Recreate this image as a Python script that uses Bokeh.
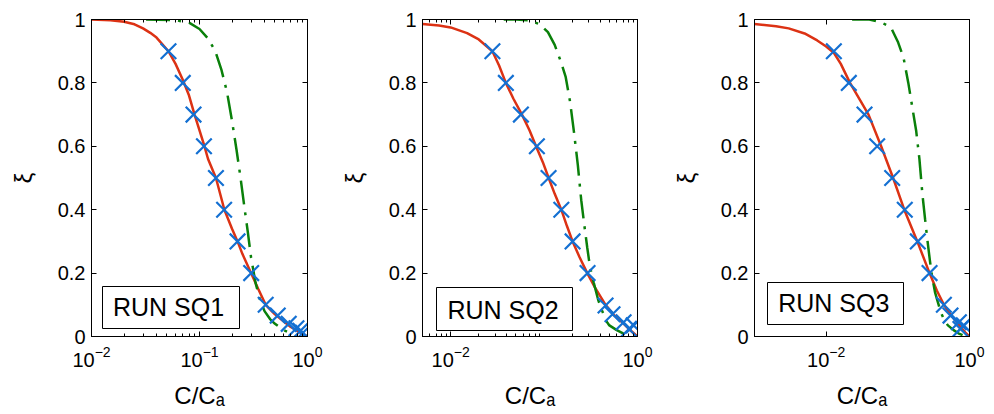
import math
from bokeh.plotting import figure
from bokeh.layouts import row
from bokeh.models import FixedTicker, LogAxis, LinearAxis, LogTickFormatter, Label
from bokeh.embed import file_html
from bokeh.resources import INLINE

# ---------------- data ----------------
# Panel 1 (RUN SQ1)
p1_red_x = [0.01, 0.015, 0.02, 0.025, 0.03, 0.035, 0.04, 0.0516, 0.06, 0.07, 0.08, 0.09, 0.1, 0.11, 0.12, 0.142,
            0.17, 0.2, 0.225, 0.25, 0.3, 0.35, 0.41, 0.5, 0.6, 0.7, 0.8, 0.9, 1.0]
p1_red_y = [1.0, 0.998, 0.993, 0.985, 0.972, 0.958, 0.943, 0.9, 0.86, 0.81, 0.76, 0.70, 0.65, 0.605, 0.56, 0.5,
            0.40, 0.34, 0.30, 0.26, 0.20, 0.15, 0.10, 0.07, 0.048, 0.03, 0.018, 0.008, 0.0]
p1_grn_x = [0.032, 0.06, 0.08, 0.1, 0.12, 0.14, 0.16, 0.18, 0.2, 0.22, 0.24, 0.26, 0.28, 0.30, 0.33, 0.36,
            0.4, 0.45, 0.5, 0.6, 0.7, 0.75]
p1_grn_y = [1.0, 0.998, 0.99, 0.97, 0.94, 0.90, 0.84, 0.77, 0.68, 0.59, 0.50, 0.41, 0.33, 0.25, 0.17, 0.12,
            0.08, 0.055, 0.04, 0.02, 0.01, 0.005]
p1_mk_x = [0.0516, 0.070, 0.088, 0.110, 0.142, 0.169, 0.225, 0.301, 0.41, 0.53, 0.67, 0.79, 0.86, 0.91]
p1_mk_y = [0.9, 0.8, 0.7, 0.6, 0.5, 0.4, 0.3, 0.2, 0.1, 0.066, 0.04, 0.026, 0.018, 0.012]

# Panel 2 (RUN SQ2)
p2_red_x = [0.005, 0.0075, 0.01, 0.015, 0.02, 0.028, 0.033, 0.039, 0.047, 0.058, 0.07, 0.082, 0.097, 0.112,
            0.13, 0.153, 0.175, 0.202, 0.24, 0.29, 0.35, 0.455, 0.55, 0.7, 0.85, 1.0]
p2_red_y = [0.986, 0.981, 0.975, 0.957, 0.937, 0.90, 0.855, 0.80, 0.75, 0.70, 0.65, 0.60, 0.55, 0.50,
            0.45, 0.40, 0.35, 0.30, 0.25, 0.20, 0.155, 0.10, 0.07, 0.042, 0.018, 0.0]
p2_grn_x = [0.037, 0.05, 0.07, 0.09, 0.11, 0.13, 0.15, 0.17, 0.19, 0.21, 0.23, 0.25, 0.27, 0.29, 0.31, 0.34,
            0.38, 0.42, 0.46, 0.5, 0.6, 0.7, 0.78]
p2_grn_y = [1.0, 1.0, 0.997, 0.985, 0.96, 0.92, 0.87, 0.82, 0.74, 0.64, 0.54, 0.43, 0.35, 0.28, 0.22, 0.17,
            0.115, 0.08, 0.05, 0.035, 0.02, 0.01, 0.004]
p2_mk_x = [0.028, 0.039, 0.0565, 0.0838, 0.1117, 0.153, 0.202, 0.292, 0.455, 0.54, 0.71, 0.81, 0.91]
p2_mk_y = [0.9, 0.8, 0.7, 0.6, 0.5, 0.4, 0.3, 0.2, 0.098, 0.07, 0.045, 0.024, 0.035]

# Panel 3 (RUN SQ3)
p3_red_x = [0.001, 0.002, 0.003, 0.005, 0.0075, 0.01, 0.0128, 0.016, 0.0215, 0.03, 0.039, 0.0585, 0.086,
            0.123, 0.187, 0.277, 0.35, 0.44, 0.54, 0.64, 0.75, 0.87, 1.0]
p3_red_y = [0.986, 0.979, 0.972, 0.956, 0.934, 0.915, 0.895, 0.86, 0.80, 0.744, 0.70, 0.60, 0.50,
            0.40, 0.30, 0.20, 0.145, 0.10, 0.07, 0.05, 0.03, 0.013, 0.0]
p3_grn_x = [0.023, 0.04, 0.06, 0.08, 0.1, 0.12, 0.14, 0.16, 0.18, 0.2, 0.22, 0.24, 0.26, 0.28, 0.3, 0.33,
            0.36, 0.4, 0.45, 0.5, 0.6, 0.7, 0.8]
p3_grn_y = [1.0, 1.0, 0.99, 0.975, 0.93, 0.88, 0.80, 0.72, 0.65, 0.56, 0.45, 0.37, 0.30, 0.24, 0.19, 0.14,
            0.11, 0.075, 0.05, 0.035, 0.02, 0.01, 0.004]
p3_mk_x = [0.0128, 0.0207, 0.0343, 0.0515, 0.0834, 0.125, 0.190, 0.277, 0.439, 0.543, 0.71, 0.748, 0.832]
p3_mk_y = [0.9, 0.8, 0.7, 0.6, 0.5, 0.4, 0.3, 0.2, 0.1, 0.066, 0.045, 0.024, 0.035]

run_names = ["RUN SQ1", "RUN SQ2", "RUN SQ3"]
y_ticks = [0, 0.2, 0.4, 0.6, 0.8, 1]
y_tick_labels = ["0", "0.2", "0.4", "0.6", "0.8", "1"]
x_label = "C/C\u2090"
y_label = "ξ"

# ---------------- style ----------------
FONT = "Liberation Sans"
RED = "#dc3214"
GREEN = "#0a800a"
BLUE = "#1470d2"


def minor_decades(lo_exp, hi_exp):
    out = []
    for e in range(lo_exp, hi_exp):
        for m in range(2, 10):
            out.append(m * 10.0 ** e)
    return out


def make_panel(xr, major, minor, rx, ry, gx, gy, mx, my, name, width, right_border,
               box_px, text_px):
    W = width - 91 - right_border
    H = 317
    lo, hi = math.log10(xr[0]), math.log10(xr[1])

    def fx(off):
        return 10 ** (lo + off / W * (hi - lo))

    def fy(py_from_top):
        return (H - py_from_top) / H

    p = figure(width=width, height=414, x_axis_type="log", x_range=xr, y_range=(0, 1),
               output_backend="svg", toolbar_location=None,
               min_border_left=91, min_border_right=right_border, min_border_top=19,
               min_border_bottom=78)
    p.grid.visible = False
    p.outline_line_color = "black"
    p.background_fill_color = "white"
    p.border_fill_color = "white"

    top_ax = LogAxis()
    right_ax = LinearAxis()
    p.add_layout(top_ax, "above")
    p.add_layout(right_ax, "right")

    xt = FixedTicker(ticks=major, minor_ticks=minor)
    yt = FixedTicker(ticks=y_ticks, minor_ticks=[])
    for ax in p.xaxis:
        ax.ticker = xt
        ax.formatter = LogTickFormatter()
    for ax in p.yaxis:
        ax.ticker = yt
        ax.major_label_overrides = {t: s for t, s in zip(y_ticks, y_tick_labels)}
    for ax in p.xaxis + p.yaxis:
        ax.axis_line_color = "black"
        ax.major_tick_line_color = "black"
        ax.minor_tick_line_color = "black"
        ax.major_tick_in = 5
        ax.major_tick_out = 0
        ax.minor_tick_in = 3
        ax.minor_tick_out = 0
        ax.major_label_text_font = FONT
        ax.major_label_text_font_size = "20px"
        ax.major_label_text_color = "black"
        ax.major_label_standoff = 6
    for ax in (top_ax, right_ax):
        ax.major_label_text_font_size = "1px"
        ax.major_label_text_alpha = 0
        ax.major_label_standoff = 0

    bottom = p.below[0]
    bottom.major_label_standoff = 9
    bottom.axis_label = x_label
    bottom.axis_label_text_font = FONT
    bottom.axis_label_text_font_size = "24px"
    bottom.axis_label_text_font_style = "normal"
    bottom.axis_label_text_color = "black"
    bottom.axis_label_standoff = 12

    left = p.left[0]
    left.axis_label = y_label
    left.axis_label_text_font = FONT
    left.axis_label_text_font_size = "24px"
    left.axis_label_text_font_style = "normal"
    left.axis_label_text_color = "black"
    left.axis_label_standoff = 18

    p.line(rx, ry, line_color=RED, line_width=2.5)
    p.line(gx, gy, line_color=GREEN, line_width=2.5, line_dash="24 8 3 8")
    p.scatter(mx, my, marker="x", size=22, line_color=BLUE, line_width=2.2)

    # legend-like box
    bl, br, bt, bb = box_px
    p.quad(left=[fx(bl)], right=[fx(br)], top=[fy(bt)], bottom=[fy(bb)],
           fill_color="white", line_color="black", line_width=1)
    tx, tbase = text_px
    p.add_layout(Label(x=fx(tx), y=fy(tbase), text=name, text_font=FONT, text_font_size="25px",
                       text_align="center", text_baseline="alphabetic", text_color="black"))
    return p


p1 = make_panel((0.01, 1.0), [0.01, 0.1, 1.0], minor_decades(-2, 0),
                p1_red_x, p1_red_y, p1_grn_x, p1_grn_y, p1_mk_x, p1_mk_y, run_names[0],
                331, 24, (11, 148, 267, 309), (77, 287))
p2 = make_panel((0.005, 1.0), [0.01, 1.0], minor_decades(-3, 0),
                p2_red_x, p2_red_y, p2_grn_x, p2_grn_y, p2_mk_x, p2_mk_y, run_names[1],
                332, 26, (14, 150, 268, 311), (80.5, 290))
p3 = make_panel((0.001, 1.0), [0.01, 1.0], [],
                p3_red_x, p3_red_y, p3_grn_x, p3_grn_y, p3_mk_x, p3_mk_y, run_names[2],
                331, 25, (13, 149, 263, 305), (79.3, 283))

layout = row(p1, p2, p3)
open("out.html", "w").write(file_html(layout, INLINE))
